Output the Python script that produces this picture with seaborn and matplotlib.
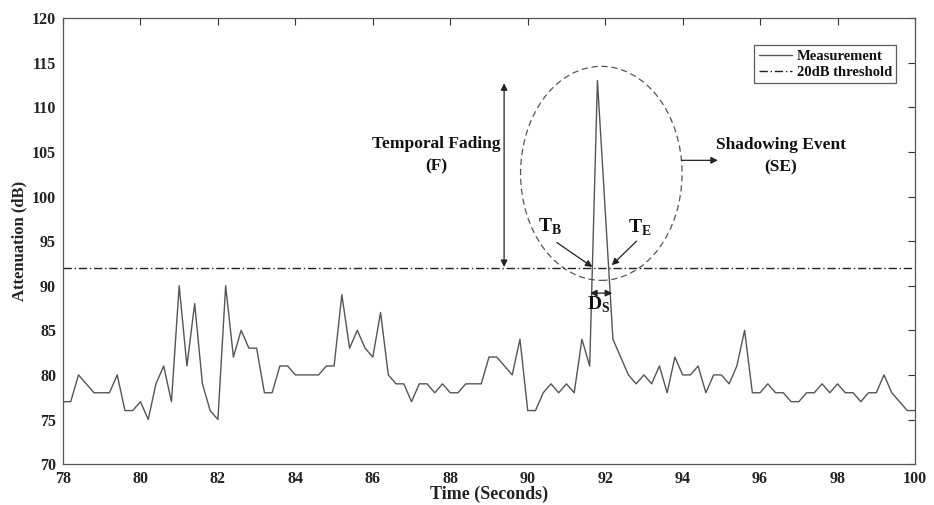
import numpy as np
import pandas as pd
import matplotlib
matplotlib.use("Agg")
import matplotlib.pyplot as plt
from matplotlib.patches import Ellipse
import seaborn as sns

# ---- data ----
time_start, time_end, time_step = 78.0, 100.0, 0.2
attenuation = [
    77, 77, 80, 79, 78, 78, 78, 80, 76, 76,
    77, 75, 79, 81, 77, 90, 81, 88, 79, 76,
    75, 90, 82, 85, 83, 83, 78, 78, 81, 81,
    80, 80, 80, 80, 81, 81, 89, 83, 85, 83,
    82, 87, 80, 79, 79, 77, 79, 79, 78, 79,
    78, 78, 79, 79, 79, 82, 82, 81, 80, 84,
    76, 76, 78, 79, 78, 79, 78, 84, 81, 113,
    98.5, 84, 82, 80, 79, 80, 79, 81, 78, 82,
    80, 80, 81, 78, 80, 80, 79, 81, 85, 78,
    78, 79, 78, 78, 77, 77, 78, 78, 79, 78,
    79, 78, 78, 77, 78, 78, 80, 78, 77, 76,
    76,
]
time = np.round(np.arange(time_start, time_end + time_step / 2, time_step), 1)
threshold = 92
x_ticks = [78, 80, 82, 84, 86, 88, 90, 92, 94, 96, 98, 100]
y_ticks = [70, 75, 80, 85, 90, 95, 100, 105, 110, 115, 120]

df = pd.DataFrame({"Time": time, "Attenuation": attenuation})

sns.set_theme(style="white")
plt.rcParams["font.family"] = ["Liberation Serif", "DejaVu Serif"]
plt.rcParams["font.weight"] = "bold"
plt.rcParams["mathtext.fontset"] = "custom"
plt.rcParams["mathtext.rm"] = "Liberation Serif:bold"
plt.rcParams["mathtext.bf"] = "Liberation Serif:bold"

fig = plt.figure(figsize=(9.34, 5.05), dpi=100)
ax = fig.add_axes([63 / 934, 0.081, 852 / 934, 0.883])

sns.lineplot(data=df, x="Time", y="Attenuation", ax=ax, color="#555555",
             linewidth=1.0, label="Measurement")
ax.axhline(threshold, color="#222222", linestyle=(0, (6, 2, 1, 2)),
           linewidth=1.0, label="20dB threshold")

ax.set_xlim(78, 100)
ax.set_ylim(70, 120)
ax.set_xticks(x_ticks)
ax.set_yticks(y_ticks)
ax.tick_params(direction="in", length=5, width=0.8, top=True, right=True,
               labelsize=11.5, colors="#333333", labelcolor="#222222", pad=5)
for lab in ax.get_xticklabels() + ax.get_yticklabels():
    lab.set_fontweight("bold")
for sp in ax.spines.values():
    sp.set_color("#555555")
    sp.set_linewidth(0.9)

ax.set_xlabel("Time (Seconds)", fontsize=13, fontweight="bold", color="#222222", labelpad=-1)
ax.set_ylabel("Attenuation (dB)", fontsize=12, fontweight="bold", color="#222222", labelpad=3)

leg = ax.legend(loc="upper right", bbox_to_anchor=(0.978, 0.9395), frameon=True,
                fancybox=False, edgecolor="#333333", fontsize=10.5,
                handlelength=2.3, handletextpad=0.3, borderpad=0.3,
                labelspacing=0.2, borderaxespad=0)
leg.get_frame().set_linewidth(0.9)
for t in leg.get_texts():
    t.set_fontweight("bold")
    t.set_color("#111111")

# ---- annotations ----
arrow_kw = dict(arrowstyle="-|>", color="#222222", lw=0.9,
                mutation_scale=10, shrinkA=0, shrinkB=0)
dbl_kw = dict(arrowstyle="<|-|>", color="#222222", lw=0.9,
              mutation_scale=10, shrinkA=0, shrinkB=0)

# temporal fading double arrow
ax.annotate("", xy=(89.39, 112.7), xytext=(89.39, 92.1), arrowprops=dbl_kw)
ax.text(87.63, 105.9, "Temporal Fading", ha="center", va="center",
        fontsize=12.5, fontweight="bold", color="#111111")
ax.text(87.63, 103.4, "(F)", ha="center", va="center",
        fontsize=12.5, fontweight="bold", color="#111111")

# shadowing event ellipse
ell = Ellipse((91.90, 102.6), width=4.17, height=24.0, fill=False,
              edgecolor="#555555", linestyle=(0, (5, 3)), linewidth=0.9)
ax.add_patch(ell)
ax.annotate("", xy=(94.91, 104.06), xytext=(93.98, 104.06), arrowprops=arrow_kw)
ax.text(96.54, 105.8, "Shadowing Event", ha="center", va="center",
        fontsize=12.5, fontweight="bold", color="#111111")
ax.text(96.54, 103.3, "(SE)", ha="center", va="center",
        fontsize=12.5, fontweight="bold", color="#111111")

# T_B and T_E
ax.text(90.57, 96.6, r"T$_\mathbf{B}$", ha="center", va="center",
        fontsize=14, fontweight="bold", color="#111111")
ax.annotate("", xy=(91.67, 92.1), xytext=(90.75, 94.85), arrowprops=arrow_kw)
ax.text(92.90, 96.5, r"T$_\mathbf{E}$", ha="center", va="center",
        fontsize=14, fontweight="bold", color="#111111")
ax.annotate("", xy=(92.17, 92.3), xytext=(92.81, 95.0), arrowprops=arrow_kw)

# D_S
ax.annotate("", xy=(91.61, 89.17), xytext=(92.18, 89.17), arrowprops=dbl_kw)
ax.text(91.83, 87.9, r"D$_\mathbf{S}$", ha="center", va="center",
        fontsize=14, fontweight="bold", color="#111111")

fig.savefig("out.png", dpi=100)
